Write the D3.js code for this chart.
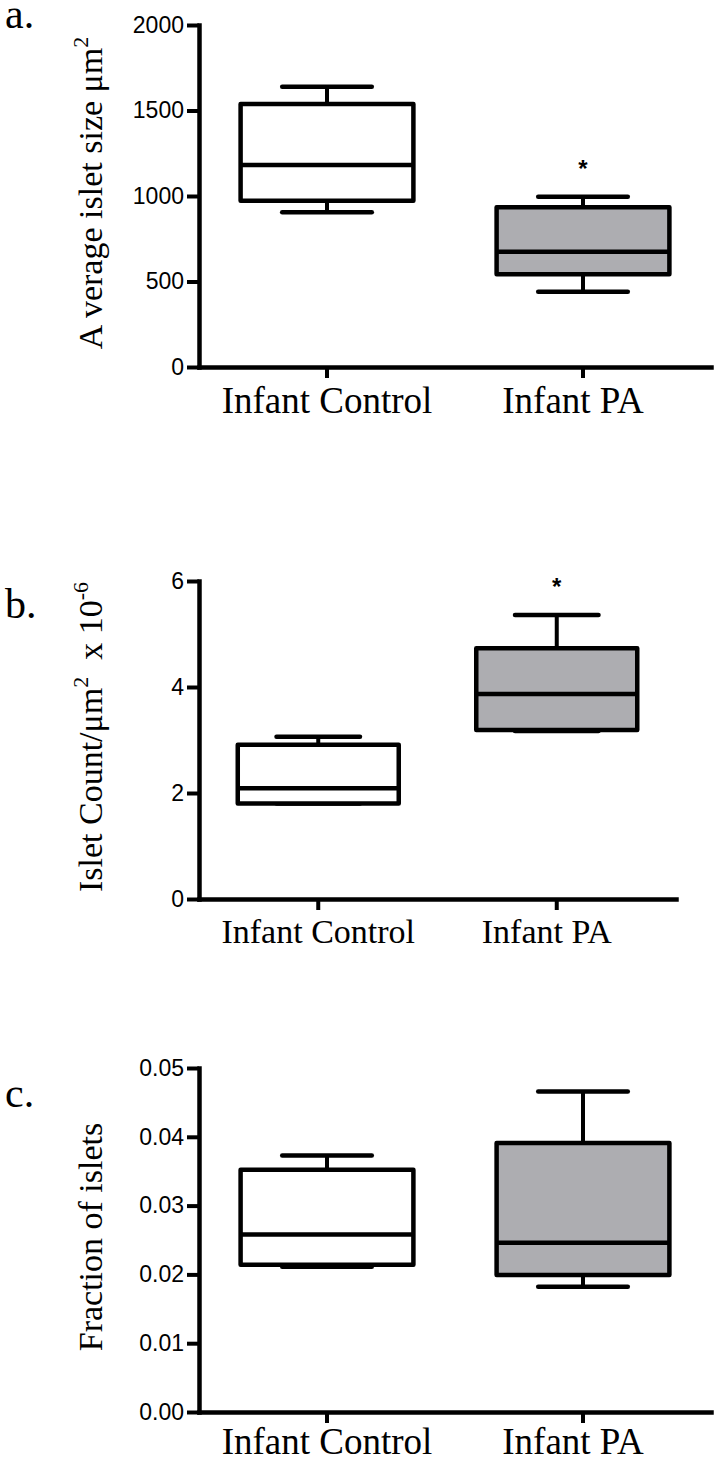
<!DOCTYPE html>
<html>
<head>
<meta charset="utf-8">
<script src="https://cdn.jsdelivr.net/npm/d3@7"></script>
<style>
	body { margin: 0; background: #fff; }
	.tick text { fill: #000; }
</style>
</head>
<body>
<script>
// groups on every panel
const categories = ['Infant Control', 'Infant PA'];
const groupFill = ['#ffffff', '#adadb1'];

// five number summaries: min, q1, median, q3, max
const sizeControl = [905, 972, 1181, 1538, 1639];
const sizePA = [440, 542, 674, 934, 996];
const sizeTicks = [0, 500, 1000, 1500, 2000];

const countControl = [1.8, 1.8, 2.09, 2.91, 3.06];
const countPA = [3.17, 3.19, 3.87, 4.73, 5.36];
const countTicks = [0, 2, 4, 6];

const fracControl = [0.0211, 0.0214, 0.0258, 0.0352, 0.0373];
const fracPA = [0.0182, 0.0199, 0.0246, 0.0391, 0.0466];
const fracTicks = [0, 0.01, 0.02, 0.03, 0.04, 0.05];

// which group carries the significance star
const sizeStar = [false, true];
const countStar = [false, true];
const fracStar = [false, false];

const w = 718;
const h = 1461;
const axisX = 199;
const serif = "'Liberation Serif', 'Times New Roman', serif";
const sans = "'Liberation Sans', Arial, sans-serif";

const svg = d3
	.select('body')
	.append('svg')
	.attr('width', w)
	.attr('height', h);

function drawPanel(p) {
	const xScale = d3.scaleBand().domain(categories).range([axisX, p.right]);
	const yScale = d3
		.scaleLinear()
		.domain([p.ticks[0], p.ticks[p.ticks.length - 1]])
		.range([p.bottom, p.top]);

	const g = svg.append('g');

	// panel letter
	g.append('text')
		.attr('x', 5)
		.attr('y', p.letterY)
		.attr('font-family', serif)
		.attr('font-size', 42)
		.text(p.letter);

	// y axis
	const yAxis = d3
		.axisLeft(yScale)
		.tickValues(p.ticks)
		.tickFormat(p.format)
		.tickSize(12)
		.tickSizeOuter(0)
		.tickPadding(3);

	const yAxisGroup = g
		.append('g')
		.attr('transform', `translate(${axisX}, 0)`)
		.call(yAxis)
		.attr('font-family', sans)
		.attr('font-size', 23);

	// x axis
	const xAxis = d3.axisBottom(xScale).tickSize(11).tickSizeOuter(0).tickPadding(p.catPad);
	const xAxisGroup = g
		.append('g')
		.attr('transform', `translate(0, ${p.bottom})`)
		.call(xAxis)
		.attr('font-family', serif)
		.attr('font-size', p.catSize);
	xAxisGroup.selectAll('text').attr('dx', (d, i) => (i === 1 ? -10 : 0));

	[yAxisGroup, xAxisGroup].forEach((ax) => {
		ax.select('.domain').attr('stroke-width', 4.5).attr('stroke-linecap', 'square');
		ax.selectAll('.tick line').attr('stroke-width', 4);
	});

	// y label
	const label = g
		.append('text')
		.attr('transform', `translate(102, ${(p.top + p.bottom) / 2 - 3}) rotate(-90)`)
		.attr('text-anchor', 'middle')
		.attr('font-family', serif)
		.attr('font-size', 34);
	p.label.forEach((part) => {
		label
			.append('tspan')
			.attr('dy', part.dy)
			.attr('font-size', part.sup ? 22 : 34)
			.text(part.t);
	});

	// boxes
	const bw = xScale.bandwidth();
	const boxW = bw * 0.675;
	const capW = bw * 0.35;

	p.stats.forEach((s, i) => {
		const cx = xScale(categories[i]) + bw / 2;
		const b = g.append('g').attr('stroke', '#000');

		b.append('line')
			.attr('x1', cx)
			.attr('x2', cx)
			.attr('y1', yScale(s[4]))
			.attr('y2', yScale(s[3]))
			.attr('stroke-width', 4);
		b.append('line')
			.attr('x1', cx)
			.attr('x2', cx)
			.attr('y1', yScale(s[1]))
			.attr('y2', yScale(s[0]))
			.attr('stroke-width', 4);

		[s[0], s[4]].forEach((v) => {
			b.append('line')
				.attr('x1', cx - capW / 2)
				.attr('x2', cx + capW / 2)
				.attr('y1', yScale(v))
				.attr('y2', yScale(v))
				.attr('stroke-width', 4.5)
				.attr('stroke-linecap', 'round');
		});

		b.append('rect')
			.attr('x', cx - boxW / 2)
			.attr('y', yScale(s[3]))
			.attr('width', boxW)
			.attr('height', yScale(s[1]) - yScale(s[3]))
			.attr('fill', groupFill[i])
			.attr('stroke-width', 4.5)
			.attr('stroke-linejoin', 'round');

		b.append('line')
			.attr('x1', cx - boxW / 2)
			.attr('x2', cx + boxW / 2)
			.attr('y1', yScale(s[2]))
			.attr('y2', yScale(s[2]))
			.attr('stroke-width', 4.5);

		if (p.star[i]) {
			g.append('text')
				.attr('x', cx)
				.attr('y', yScale(s[4]) - 20)
				.attr('text-anchor', 'middle')
				.attr('font-family', sans)
				.attr('font-weight', 'bold')
				.attr('font-size', 24)
				.text('*');
		}
	});
}

drawPanel({
	letter: 'a.',
	letterY: 28,
	top: 25,
	bottom: 367,
	right: 711,
	ticks: sizeTicks,
	format: d3.format('d'),
	catSize: 37,
	catPad: 9,
	stats: [sizeControl, sizePA],
	star: sizeStar,
	label: [
		{ t: 'A verage islet size μm', dy: 0 },
		{ t: '2', dy: -14, sup: true }
	]
});

drawPanel({
	letter: 'b.',
	letterY: 618,
	top: 581,
	bottom: 899,
	right: 676,
	ticks: countTicks,
	format: d3.format('d'),
	catSize: 34,
	catPad: 9,
	stats: [countControl, countPA],
	star: countStar,
	label: [
		{ t: 'Islet Count/μm', dy: 0 },
		{ t: '2', dy: -14, sup: true },
		{ t: '\u00a0\u00a0x 10', dy: 14 },
		{ t: '-6', dy: -14, sup: true }
	]
});

drawPanel({
	letter: 'c.',
	letterY: 1107,
	top: 1068,
	bottom: 1412,
	right: 711,
	ticks: fracTicks,
	format: d3.format('.2f'),
	catSize: 37,
	catPad: 5,
	stats: [fracControl, fracPA],
	star: fracStar,
	label: [{ t: 'Fraction of islets', dy: 0 }]
});
</script>
</body>
</html>
